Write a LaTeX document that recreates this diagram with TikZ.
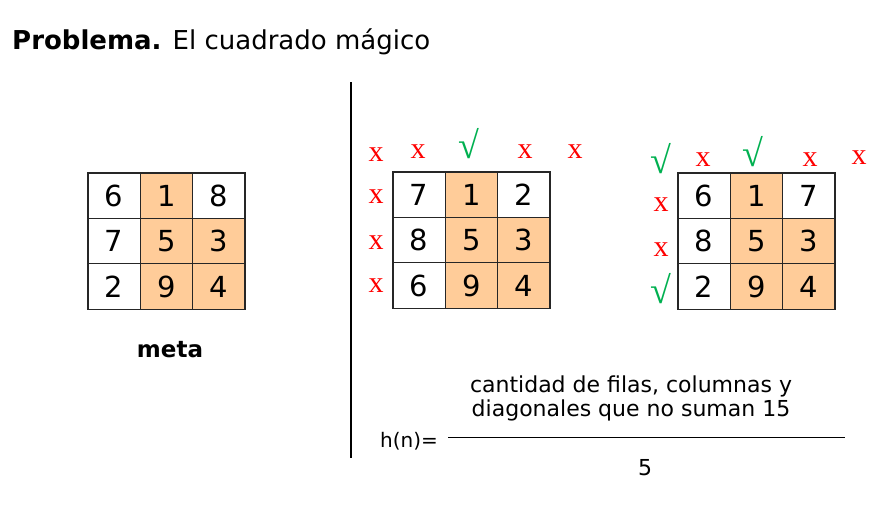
\documentclass[tikz,border=0pt]{standalone}
\usepackage{fontspec}
\setmainfont{DejaVu Sans}
\newfontfamily\markfont{Liberation Serif}
\usetikzlibrary{positioning}

\definecolor{peach}{HTML}{FFCC99}
\definecolor{okgreen}{HTML}{00B050}

\tikzset{
  cell/.style={draw=black!85, line width=1.3pt, minimum width=52.3pt, minimum height=45.4pt,
    inner sep=0pt, font=\fontsize{29}{29}\selectfont},
  lit/.style={cell, fill=peach},
  no/.style={text=red, inner sep=0pt, font=\markfont\fontsize{30}{30}\selectfont},
  ok/.style={text=okgreen, inner sep=0pt, font=\markfont\fontsize{38}{38}\selectfont},
  say/.style={anchor=base, inner sep=0pt, font=\fontsize{22}{22}\selectfont},
}

\begin{document}
\begin{tikzpicture}[x=1pt,y=-1pt]
  \useasboundingbox (0,0) rectangle (874,527);

  \node[anchor=base west, inner sep=0pt, font=\fontsize{26}{26}\selectfont]
    (title) at (12,49) {\textbf{Problema.} El cuadrado mágico};

  % goal square
  \foreach \n/\s [count=\i from 0] in {6/cell,1/lit,8/cell,7/cell,5/lit,3/lit,2/cell,9/lit,4/lit}
    \node[\s] (L\i) at ({88+26.15+52.3*mod(\i,3)},{173+22.7+45.4*int(\i/3)}) {\n};
  \node[say, font=\bfseries\fontsize{23}{23}\selectfont] (meta) at (170,357) {meta};

  % divider
  \coordinate (divtop) at (351,82);
  \coordinate (divbot) at (351,458);
  \draw[line width=1.3pt] (divtop) -- (divbot);

  % two states
  \foreach \n/\s [count=\i from 0] in {7/cell,1/lit,2/cell,8/cell,5/lit,3/lit,6/cell,9/lit,4/lit}
    \node[\s] (M\i) at ({393+26.15+52.3*mod(\i,3)},{172+22.7+45.4*int(\i/3)}) {\n};
  \foreach \n/\s [count=\i from 0] in {6/cell,1/lit,7/cell,8/cell,5/lit,3/lit,2/cell,9/lit,4/lit}
    \node[\s] (R\i) at ({678+26.15+52.3*mod(\i,3)},{173+22.7+45.4*int(\i/3)}) {\n};

  % marks
  \foreach \t/\m/\x/\y [count=\i] in {x/no/376/155, x/no/418/152, √/ok/469/144, x/no/525/152,
      x/no/575/152, x/no/376/197, x/no/376/243, x/no/376/286}
    \node[\m] (mm\i) at (\x,\y) {\t};
  \foreach \t/\m/\x/\y [count=\i] in {√/ok/661/159, x/no/703/160, √/ok/753/152, x/no/810/160,
      x/no/859/158, x/no/661/205, x/no/661/250, √/ok/661/289}
    \node[\m] (rm\i) at (\x,\y) {\t};

  % heuristic
  \node[say] (num1) at (631,392) {cantidad de filas, columnas y};
  \node[say] (num2) at (631,416) {diagonales que no suman 15};
  \coordinate (barL) at (448,437);
  \coordinate (barR) at (845,437);
  \draw[line width=0.8pt] (barL) -- (barR);
  \node[say] (den) at (645,475) {5};
  \node[say, anchor=base east, font=\fontsize{20}{20}\selectfont] (hn) at (438,447) {h(n)=};
\end{tikzpicture}
\end{document}
